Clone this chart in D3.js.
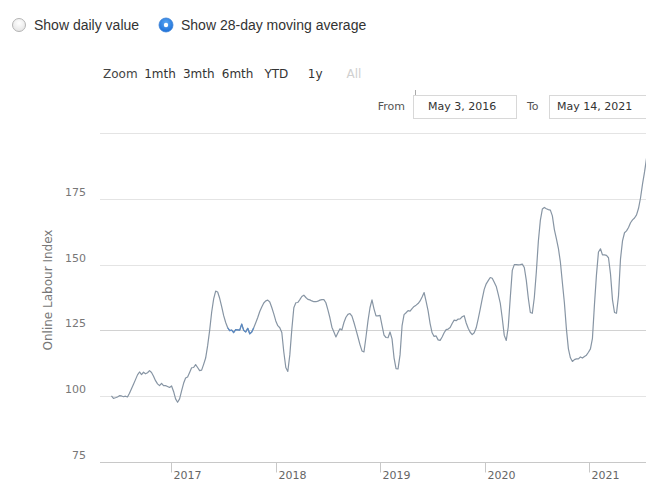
<!DOCTYPE html>
<html>
<head>
<meta charset="utf-8">
<script src="https://cdn.jsdelivr.net/npm/d3@7"></script>
<style>
  html, body { margin: 0; padding: 0; background: #fff; }
  svg { display: block; }
</style>
</head>
<body>
<svg id="chart" width="646" height="484"></svg>
<script>
// ---------------- DATA ----------------
const seriesStart = "2016-06-07";      // first 28-day moving-average point
const stepDays = 7;                     // weekly samples
const olIndex = [
  100.1, 99.2, 99.4, 99.7, 100.2, 100.1, 99.8, 100.0, 99.7, 101.1,
  102.8, 104.5, 106.3, 108.1, 109.2, 108.2, 109.1, 108.5, 108.9, 109.7,
  109.0, 107.6, 105.9, 104.7, 104.0, 104.9, 104.0, 104.0, 103.7, 103.3,
  103.9, 101.8, 99.0, 97.7, 99.0, 102.0, 104.9, 106.9, 107.3, 109.0,
  110.8, 110.9, 112.0, 110.9, 109.7, 109.9, 112.1, 114.5, 119.2, 125.0,
  131.9, 137.0, 139.9, 139.6, 137.2, 134.0, 130.6, 128.0, 126.0, 124.9,
  125.1, 124.2, 125.3, 125.2, 125.1, 127.4, 125.0, 124.4, 125.8, 123.7,
  124.4, 126.0, 127.9, 129.9, 132.2, 133.9, 135.4, 136.2, 136.5, 135.8,
  133.7, 131.3, 128.6, 126.8, 126.0, 124.2, 116.8, 110.9, 109.4, 115.7,
  125.4, 133.6, 135.5, 135.6, 136.7, 137.9, 138.4, 137.5, 136.8, 136.6,
  136.2, 135.9, 135.9, 136.1, 136.5, 136.7, 136.7, 135.5, 132.8, 129.8,
  126.2, 124.4, 122.5, 124.1, 125.6, 125.2, 128.0, 130.0, 131.1, 131.4,
  130.4, 128.0, 125.3, 122.5, 119.6, 117.2, 116.8, 122.5, 128.6, 133.6,
  136.6, 133.2, 130.5, 130.5, 130.7, 126.9, 123.2, 122.3, 122.2, 124.4,
  121.8, 114.6, 110.5, 110.4, 115.7, 126.7, 131.0, 131.7, 132.5, 132.3,
  133.3, 134.1, 134.6, 135.2, 136.2, 137.7, 139.4, 136.0, 132.4, 127.6,
  124.1, 122.7, 122.9, 121.4, 121.2, 122.5, 124.1, 125.3, 125.5, 126.1,
  127.6, 128.9, 128.7, 129.3, 129.4, 130.2, 130.6, 127.8, 125.8, 124.3,
  123.4, 124.1, 126.0, 129.4, 133.1, 137.0, 140.6, 142.7, 143.9, 145.1,
  144.8, 143.3, 141.7, 138.7, 135.4, 129.6, 123.1, 121.2, 126.4, 137.4,
  147.8, 150.0, 150.0, 149.9, 150.0, 150.2, 148.9, 144.0, 137.2, 131.8,
  131.5, 137.5, 147.2, 158.8, 166.8, 171.1, 171.7, 171.2, 170.9, 170.7,
  168.5, 163.3, 159.9, 156.2, 151.0, 143.1, 135.5, 125.6, 118.0, 114.6,
  113.2, 113.9, 114.2, 114.2, 114.9, 114.5, 115.1, 115.6, 116.7, 118.0,
  122.0, 134.8, 146.1, 154.8, 156.0, 153.7, 153.7, 153.5, 152.6, 146.5,
  136.6, 131.8, 131.5, 138.1, 152.2, 159.0, 162.1, 162.8, 164.1, 165.9,
  167.0, 167.7, 168.9, 171.4, 175.4, 180.7, 185.2, 190.5, 193.5
];
const yGridValues = [75, 100, 125, 150, 175, 200];
const yTickLabels = ["75", "100", "125", "150", "175"];
const xTickYears = ["2017", "2018", "2019", "2020", "2021"];
const radioLabels = ["Show daily value", "Show 28-day moving average"];
const zoomLabel = "Zoom";
const zoomButtons = ["1mth", "3mth", "6mth", "YTD", "1y", "All"];
const fromLabel = "From", toLabel = "To";
const fromDate = "May 3, 2016", toDate = "May 14, 2021";
const yAxisTitle = "Online Labour Index";
const highlightRange = ["2017-07-18", "2017-10-17"];

// ---------------- BUILD ----------------
const parse = d3.utcParse("%Y-%m-%d");
const t0 = parse(seriesStart);
const data = olIndex.map((v, i) => ({ date: d3.utcDay.offset(t0, i * stepDays), value: v }));

const svg = d3.select("#chart");
const plot = { left: 100, right: 646, top: 120, bottom: 462 };

const x = d3.scaleUtc()
  .domain([parse("2017-01-01"), parse("2021-01-01")])
  .range([171, 589.3]);
const y = d3.scaleLinear().domain([75, 200]).range([462, 133]);

const sans = "'Liberation Sans', Arial, Helvetica, sans-serif";
const ui = "'DejaVu Sans', Verdana, sans-serif";

// radio buttons
const defs = svg.append("defs");
const rg = defs.append("radialGradient").attr("id", "radOff").attr("cx", "50%").attr("cy", "35%").attr("r", "65%");
rg.append("stop").attr("offset", "0%").attr("stop-color", "#ffffff");
rg.append("stop").attr("offset", "100%").attr("stop-color", "#e4e4e4");
const rb = defs.append("radialGradient").attr("id", "radOn").attr("cx", "50%").attr("cy", "35%").attr("r", "65%");
rb.append("stop").attr("offset", "0%").attr("stop-color", "#5aa6f2");
rb.append("stop").attr("offset", "100%").attr("stop-color", "#1c6fd8");

svg.append("circle").attr("cx", 19).attr("cy", 25).attr("r", 6.5)
  .attr("fill", "url(#radOff)").attr("stroke", "#b4b4b4").attr("stroke-width", 1);
svg.append("text").attr("x", 34).attr("y", 30).text(radioLabels[0])
  .attr("font-family", sans).attr("font-size", 14).attr("fill", "#333");
svg.append("circle").attr("cx", 166).attr("cy", 25).attr("r", 7)
  .attr("fill", "url(#radOn)").attr("stroke", "#3b82d6").attr("stroke-width", 0.8);
svg.append("circle").attr("cx", 166).attr("cy", 25).attr("r", 2.2).attr("fill", "#fff");
svg.append("text").attr("x", 181).attr("y", 30).text(radioLabels[1])
  .attr("font-family", sans).attr("font-size", 14).attr("fill", "#333");

// range selector
svg.append("text").attr("x", 103).attr("y", 78).text(zoomLabel)
  .attr("font-family", ui).attr("font-size", 12).attr("fill", "#444");
svg.append("g").selectAll("text").data(zoomButtons).join("text")
  .attr("x", (d, i) => 160 + i * 38.8).attr("y", 78)
  .attr("text-anchor", "middle")
  .attr("font-family", ui).attr("font-size", 12)
  .attr("fill", (d, i) => i === zoomButtons.length - 1 ? "#d0d0d0" : "#333")
  .text(d => d);

svg.append("text").attr("x", 405).attr("y", 110).attr("text-anchor", "end").text(fromLabel)
  .attr("font-family", ui).attr("font-size", 11).attr("fill", "#555");
svg.append("line").attr("x1", 415.5).attr("x2", 415.5).attr("y1", 90).attr("y2", 95)
  .attr("stroke", "#aaa");
svg.append("rect").attr("x", 413.5).attr("y", 95.5).attr("width", 103).attr("height", 23)
  .attr("fill", "#fff").attr("stroke", "#d8d8d8");
svg.append("text").attr("x", 428).attr("y", 110).text(fromDate)
  .attr("font-family", ui).attr("font-size", 11).attr("fill", "#333");
svg.append("text").attr("x", 527).attr("y", 110).text(toLabel)
  .attr("font-family", ui).attr("font-size", 11).attr("fill", "#555");
svg.append("rect").attr("x", 549.5).attr("y", 95.5).attr("width", 110).attr("height", 23)
  .attr("fill", "#fff").attr("stroke", "#d8d8d8");
svg.append("text").attr("x", 557).attr("y", 110).text(toDate)
  .attr("font-family", ui).attr("font-size", 11).attr("fill", "#333");

// grid
svg.append("g").selectAll("line").data(yGridValues.filter(v => v !== 75)).join("line")
  .attr("x1", plot.left).attr("x2", plot.right)
  .attr("y1", d => Math.round(y(d)) + 0.5).attr("y2", d => Math.round(y(d)) + 0.5)
  .attr("stroke", d => d === 125 ? "#d2d2d2" : "#e4e4e4").attr("stroke-width", 1);

// y labels
svg.append("g").selectAll("text").data(yTickLabels).join("text")
  .attr("x", 86).attr("y", d => y(+d) - 3)
  .attr("text-anchor", "end")
  .attr("font-family", ui).attr("font-size", 11).attr("fill", "#777")
  .text(d => d);

svg.append("text")
  .attr("transform", `translate(52,290) rotate(-90)`)
  .attr("text-anchor", "middle")
  .attr("font-family", ui).attr("font-size", 12).attr("fill", "#777")
  .text(yAxisTitle);

// x axis
const xAxisY = Math.round(y(75)) + 0.5;
svg.append("line").attr("x1", plot.left).attr("x2", plot.right)
  .attr("y1", xAxisY).attr("y2", xAxisY).attr("stroke", "#c8c8c8");
const xt = svg.append("g").selectAll("g").data(xTickYears).join("g")
  .attr("transform", d => `translate(${Math.round(x(parse(d + "-01-01"))) + 0.5},0)`);
xt.append("line").attr("y1", xAxisY).attr("y2", xAxisY + 10).attr("stroke", "#c8c8c8");
xt.append("text").attr("x", 2).attr("y", 479)
  .attr("font-family", ui).attr("font-size", 11).attr("fill", "#666")
  .text(d => d);

// line
defs.append("clipPath").attr("id", "plotClip").append("rect")
  .attr("x", plot.left).attr("y", plot.top).attr("width", plot.right - plot.left).attr("height", plot.bottom - plot.top);
const line = d3.line().x(d => x(d.date)).y(d => y(d.value)).curve(d3.curveLinear);
const g = svg.append("g").attr("clip-path", "url(#plotClip)");
g.append("path").datum(data).attr("d", line)
  .attr("fill", "none").attr("stroke", "#8795a4").attr("stroke-width", 1.2)
  .attr("stroke-linejoin", "round");
const h0 = parse(highlightRange[0]), h1 = parse(highlightRange[1]);
g.append("path").datum(data.filter(d => d.date >= h0 && d.date <= h1)).attr("d", line)
  .attr("fill", "none").attr("stroke", "#5a8ac4").attr("stroke-width", 1.2)
  .attr("stroke-linejoin", "round");
</script>
</body>
</html>
